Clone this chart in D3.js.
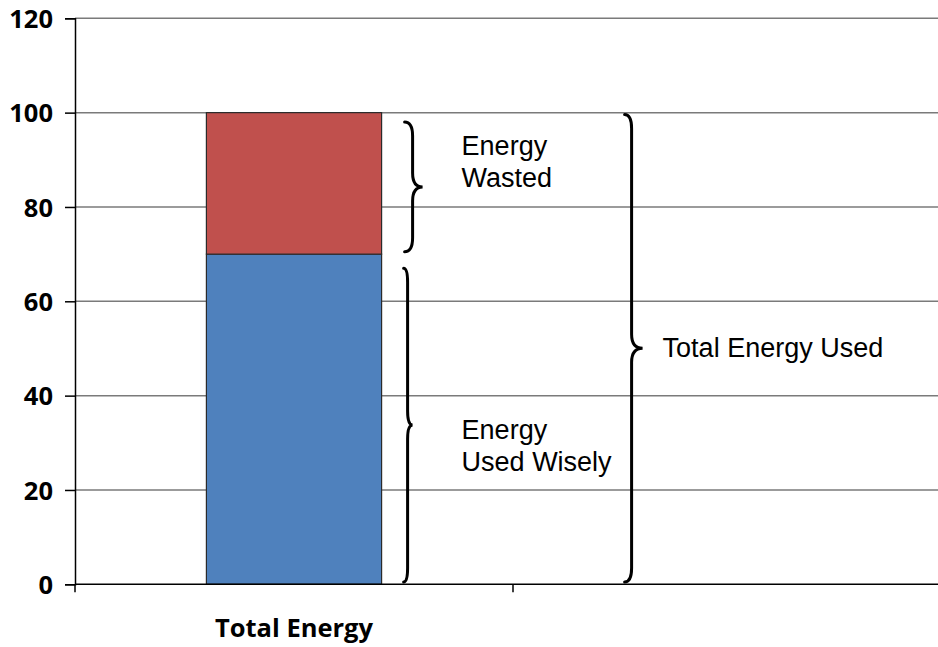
<!DOCTYPE html>
<html>
<head>
<meta charset="utf-8">
<script src="https://cdn.jsdelivr.net/npm/d3@7/dist/d3.min.js"></script>
<style>
  html, body { margin: 0; padding: 0; background: #fff; }
  svg { display: block; }
</style>
</head>
<body>
<svg id="chart" width="938" height="647"></svg>
<script>
// Categories along the x axis (second slot intentionally left empty)
const categories = ["Total Energy", ""];

// Stacked series values per category
const usedWisely = [70, null];
const wasted = [30, null];

// Y axis ticks
const yTicks = [0, 20, 40, 60, 80, 100, 120];

// Brace annotations: value span, label lines, and label baseline value
const braceNames = ["wasted", "wisely", "total"];
const braceFrom = [70.5, 0.5, 0.5];
const braceTo = [98, 67, 99.6];
const braceLabels = [["Energy", "Wasted"], ["Energy", "Used Wisely"], ["Total Energy Used"]];
const braceLabelAt = [91, 30.8, 48.2];

const svg = d3.select("#chart");
const plotLeft = 75, plotRight = 951, plotTop = 18.3, plotBottom = 584.3;

const x = d3.scaleBand().domain(categories).range([plotLeft, plotRight]).padding(0);
const y = d3.scaleLinear().domain([0, 120]).range([plotBottom, plotTop]);

const barFrac = 0.4;
const barW = x.bandwidth() * barFrac;

// Horizontal gridlines
svg.append("g")
  .selectAll("line")
  .data(yTicks.filter(d => d > 0))
  .join("line")
  .attr("x1", plotLeft).attr("x2", plotRight)
  .attr("y1", d => y(d)).attr("y2", d => y(d))
  .attr("stroke", "#7a7a7a")
  .attr("stroke-width", 1.5);

// Stacked bars
const rows = categories.map((c, i) => ({ cat: c, usedWisely: usedWisely[i], wasted: wasted[i] }))
  .filter(r => r.usedWisely != null);
const stack = d3.stack().keys(["usedWisely", "wasted"])(rows);
const colors = { usedWisely: "#4F81BD", wasted: "#C0504D" };

svg.append("g")
  .selectAll("g")
  .data(stack)
  .join("g")
  .attr("fill", d => colors[d.key])
  .selectAll("rect")
  .data(d => d)
  .join("rect")
  .attr("x", d => x(d.data.cat) + (x.bandwidth() - barW) / 2)
  .attr("width", barW)
  .attr("y", d => y(d[1]))
  .attr("height", d => y(d[0]) - y(d[1]))
  .attr("stroke", "#2b2b2b")
  .attr("stroke-width", 1.2);

// Y axis
const yAxis = d3.axisLeft(y).tickValues(yTicks).tickSize(10).tickPadding(12);
const gy = svg.append("g").attr("transform", `translate(${plotLeft},0)`).call(yAxis);
gy.select(".domain").attr("stroke", "#000").attr("stroke-width", 1.5);
gy.selectAll(".tick line").attr("stroke", "#000").attr("stroke-width", 1.5);
gy.selectAll(".tick text")
  .attr("fill", "#000")
  .attr("dy", "0.36em")
  .style("font-family", "'Open Sans', sans-serif")
  .style("font-weight", "700")
  .style("font-size", "25.5px");

// X axis: ticks at category boundaries
const boundaries = categories.map(c => x(c)).concat([plotRight]);
const gx = svg.append("g");
gx.append("line")
  .attr("x1", plotLeft).attr("x2", plotRight)
  .attr("y1", plotBottom).attr("y2", plotBottom)
  .attr("stroke", "#000").attr("stroke-width", 1.5);
gx.selectAll("line.tick")
  .data(boundaries)
  .join("line")
  .attr("class", "tick")
  .attr("x1", d => d).attr("x2", d => d)
  .attr("y1", plotBottom).attr("y2", plotBottom + 8)
  .attr("stroke", "#000").attr("stroke-width", 1.5);
gx.selectAll("text")
  .data(categories.filter(c => c))
  .join("text")
  .attr("x", d => x(d) + x.bandwidth() / 2)
  .attr("y", 637)
  .attr("text-anchor", "middle")
  .style("font-family", "'Open Sans', sans-serif")
  .style("font-weight", "700")
  .style("font-size", "25.5px")
  .attr("fill", "#000")
  .text(d => d);

// Curly brace path pointing right: hook x, stem x, tip x
function bracePath(xh, xs, xt, y1, y2) {
  const ym = (y1 + y2) / 2;
  const r = Math.min(14, (y2 - y1) / 6);
  return `M${xh},${y1} Q${xs},${y1} ${xs},${y1 + r} L${xs},${ym - r} ` +
         `Q${xs},${ym} ${xt},${ym} Q${xs},${ym} ${xs},${ym + r} ` +
         `L${xs},${y2 - r} Q${xs},${y2} ${xh},${y2}`;
}

const barRight = x(categories[0]) + (x.bandwidth() + barW) / 2;
// Horizontal layout of each brace, relative to the bar's right edge
const braceGeom = {
  wasted: { hook: barRight + 23, stem: barRight + 31, tip: barRight + 41, text: barRight + 80 },
  wisely: { hook: barRight + 22, stem: barRight + 26, tip: barRight + 31, text: barRight + 80 },
  total:  { hook: barRight + 243, stem: barRight + 250, tip: barRight + 261, text: barRight + 281 }
};

const ann = svg.append("g");
braceNames.forEach((name, i) => {
  const g = braceGeom[name];
  ann.append("path")
    .attr("d", bracePath(g.hook, g.stem, g.tip, y(braceTo[i]), y(braceFrom[i])))
    .attr("fill", "none")
    .attr("stroke", "#000")
    .attr("stroke-width", 3)
    .attr("stroke-linecap", "round");
  const t = ann.append("text")
    .attr("x", g.text)
    .attr("y", y(braceLabelAt[i]))
    .style("font-family", "'Liberation Sans', Arial, sans-serif")
    .style("font-size", "27px")
    .attr("fill", "#000");
  braceLabels[i].forEach((line, k) => {
    t.append("tspan").attr("x", g.text).attr("dy", k === 0 ? 0 : 32).text(line);
  });
});
</script>
</body>
</html>
